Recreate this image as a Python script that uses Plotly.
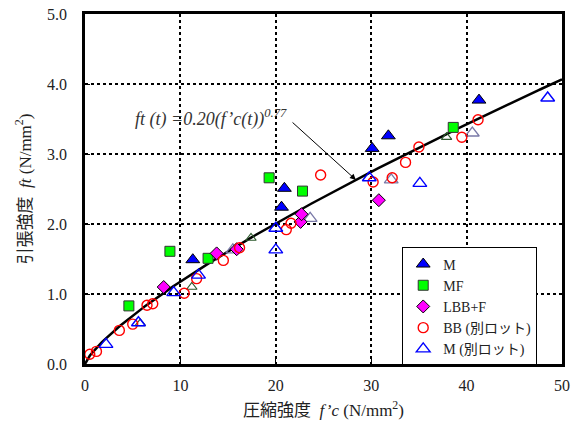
import numpy as np
import plotly.graph_objects as go

# ---- data ----
m_x = [11.3, 20.6, 20.9, 30.1, 31.8, 41.3]
m_y = [1.49, 2.24, 2.51, 3.08, 3.26, 3.77]

mf_x = [4.6, 8.9, 12.9, 19.3, 22.8, 38.6]
mf_y = [0.83, 1.61, 1.51, 2.66, 2.47, 3.38]

lbb_x = [8.25, 13.8, 15.9, 22.6, 22.7, 30.8]
lbb_y = [1.10, 1.58, 1.64, 2.03, 2.14, 2.34]

bb_x = [0.5, 1.2, 3.6, 5.0, 6.5, 7.1, 10.4, 11.7, 14.5, 16.2, 21.1, 21.6, 24.7,
        30.2, 32.2, 33.6, 35.0, 39.5, 41.2]
bb_y = [0.14, 0.18, 0.48, 0.57, 0.84, 0.86, 1.01, 1.22, 1.48, 1.66, 1.92, 2.01, 2.70,
        2.60, 2.66, 2.88, 3.10, 3.24, 3.49]

m2_x = [2.2, 5.6, 9.3, 11.9, 20.0, 20.0, 29.8, 35.1, 48.5]
m2_y = [0.28, 0.59, 1.02, 1.27, 1.94, 1.63, 2.66, 2.58, 3.80]

# unlabelled extra series (grey and dark-green open triangles)
grey_x = [15.5, 23.6, 32.1, 40.6]
grey_y = [1.63, 2.08, 2.63, 3.30]
dg_x = [5.8, 11.2, 17.4, 37.9]
dg_y = [0.58, 1.10, 1.80, 3.24]

# fitted curve ft = a * fc^b
fit_a = 0.20
fit_b = 0.77
fit_x = np.linspace(0, 50, 201)
fit_y = fit_a * fit_x ** fit_b

x_ticks = [0, 10, 20, 30, 40, 50]
y_ticks = [0, 1, 2, 3, 4, 5]

SERIF = "Liberation Serif, Times New Roman, Noto Sans CJK JP, serif"

fig = go.Figure()

fig.add_trace(go.Scatter(x=fit_x, y=fit_y, mode="lines", line=dict(color="black", width=2.5),
                         showlegend=False, hoverinfo="skip"))

fig.add_trace(go.Scatter(x=grey_x, y=grey_y, mode="markers", showlegend=False,
                         marker=dict(symbol="triangle-up-open", size=12, color="#7a7aa8",
                                     line=dict(width=1.3, color="#7a7aa8"))))
fig.add_trace(go.Scatter(x=dg_x, y=dg_y, mode="markers", showlegend=False,
                         marker=dict(symbol="triangle-up-open", size=9, color="#2d5a2d",
                                     line=dict(width=1.2, color="#2d5a2d"))))

fig.add_trace(go.Scatter(x=m_x, y=m_y, mode="markers", name="M",
                         marker=dict(symbol="triangle-up", size=12, color="#0000ff",
                                     line=dict(width=1, color="black"))))
fig.add_trace(go.Scatter(x=mf_x, y=mf_y, mode="markers", name="MF",
                         marker=dict(symbol="square", size=10, color="#00ff00",
                                     line=dict(width=1, color="#333333"))))
fig.add_trace(go.Scatter(x=lbb_x, y=lbb_y, mode="markers", name="LBB+F",
                         marker=dict(symbol="diamond", size=10, color="#ff00ff",
                                     line=dict(width=1, color="black"))))
fig.add_trace(go.Scatter(x=bb_x, y=bb_y, mode="markers", name="BB (別ロット)",
                         marker=dict(symbol="circle-open", size=10, color="#ff0000",
                                     line=dict(width=1.4, color="#ff0000"))))
fig.add_trace(go.Scatter(x=m2_x, y=m2_y, mode="markers", name="M (別ロット)",
                         marker=dict(symbol="triangle-up-open", size=12, color="#0000ff",
                                     line=dict(width=1.4, color="#0000ff"))))

fig.add_annotation(x=28.4, y=2.63, ax=21.6, ay=3.47, xref="x", yref="y", axref="x", ayref="y",
                   text="", showarrow=True, arrowhead=2, arrowsize=1.2, arrowwidth=1,
                   arrowcolor="black")
fig.add_annotation(x=21.4, y=3.52, xref="x", yref="y", xanchor="right", yanchor="middle",
                   showarrow=False,
                   text="<i>ft (t) =0.20(f’c(t))<sup>0.77</sup></i>",
                   font=dict(family=SERIF, size=18, color="#333333"))

fig.update_layout(
    width=582, height=432,
    margin=dict(l=85, r=20, t=14, b=68, autoexpand=False),
    paper_bgcolor="white", plot_bgcolor="white",
    font=dict(family=SERIF, size=15, color="#222222"),
    legend=dict(x=0.665, y=0.333, xanchor="left", yanchor="top",
                bgcolor="white", bordercolor="black", borderwidth=1,
                font=dict(family=SERIF, size=14, color="#222222"),
                itemsizing="trace", itemwidth=30, tracegroupgap=0),
    xaxis=dict(range=[0, 50], tickvals=x_ticks, ticktext=[str(v) for v in x_ticks],
               showgrid=True, gridcolor="black", griddash="dot", gridwidth=2,
               showline=True, linecolor="black", linewidth=2.5, mirror=True,
               ticks="inside", ticklen=5, tickcolor="black", zeroline=False,
               tickfont=dict(size=16), automargin=False, ticklabelstandoff=5,
               title=dict(text="圧縮強度  <i>f’c</i> (N/mm<sup>2</sup>)", font=dict(size=17),
                          standoff=12)),
    yaxis=dict(range=[0, 5], tickvals=y_ticks, ticktext=[f"{v:.1f}" for v in y_ticks],
               showgrid=True, gridcolor="black", griddash="dot", gridwidth=2,
               showline=True, linecolor="black", linewidth=2.5, mirror=True,
               ticks="inside", ticklen=5, tickcolor="black", zeroline=False,
               tickfont=dict(size=16), automargin=False, ticklabelstandoff=12,
               title=dict(text="引張強度  <i>ft</i> (N/mm<sup>2</sup>)", font=dict(size=17),
                          standoff=12)),
)

fig.write_html("out.html", config={"displayModeBar": False},
               post_script="document.body.style.margin='0';")
